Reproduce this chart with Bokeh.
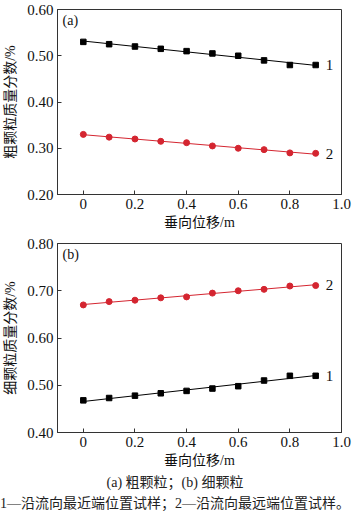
import numpy as np
from bokeh.plotting import figure
from bokeh.layouts import column
from bokeh.models import FixedTicker, Label, Div, Range1d
from bokeh.embed import file_html
from bokeh.resources import INLINE

# ---- data ----
x_disp = [0.0, 0.1, 0.2, 0.3, 0.4, 0.5, 0.6, 0.7, 0.8, 0.9]
coarse_s1 = [0.530, 0.525, 0.520, 0.515, 0.510, 0.505, 0.500, 0.490, 0.480, 0.480]
coarse_s2 = [0.330, 0.324, 0.320, 0.315, 0.312, 0.305, 0.300, 0.297, 0.290, 0.289]
fine_s1 = [0.468, 0.473, 0.478, 0.483, 0.488, 0.493, 0.498, 0.510, 0.520, 0.520]
fine_s2 = [0.670, 0.677, 0.680, 0.685, 0.687, 0.695, 0.700, 0.703, 0.710, 0.711]
x_ticks = [0, 0.2, 0.4, 0.6, 0.8, 1.0]
x_tick_labels = ["0", "0.2", "0.4", "0.6", "0.8", "1.0"]
ya_ticks = [0.2, 0.3, 0.4, 0.5, 0.6]
yb_ticks = [0.4, 0.5, 0.6, 0.7, 0.8]
series_names = ["1", "2"]

FONT = "Liberation Serif, Noto Sans CJK SC"
RED = "#d42530"
BLACK = "#000000"


def fit(xs, ys):
    k, b = np.polyfit(xs, ys, 1)
    return [k * x + b for x in xs]


def make_panel(tag, ylabel, yr, yticks, s1, s2, height, top):
    p = figure(width=356, height=height, output_backend="svg", toolbar_location=None,
               x_range=Range1d(-0.1, 1.0), y_range=Range1d(*yr),
               min_border_left=54, min_border_right=15, min_border_top=top,
               min_border_bottom=40)
    p.grid.visible = False
    p.outline_line_color = "#333333"
    p.outline_line_width = 1
    p.background_fill_color = "white"
    p.border_fill_color = "white"

    for ax in (p.xaxis[0], p.yaxis[0]):
        ax.major_tick_in = 4
        ax.major_tick_out = 0
        ax.minor_tick_line_color = None
        ax.axis_line_color = "#333333"
        ax.major_tick_line_color = "#333333"
        ax.major_label_text_font = FONT
        ax.major_label_text_font_size = "15px"
        ax.major_label_text_color = "#111111"
        ax.axis_label_text_font = FONT
        ax.axis_label_text_font_size = "14px"
        ax.axis_label_text_font_style = "normal"
        ax.axis_label_text_color = "#111111"

    p.xaxis.ticker = FixedTicker(ticks=x_ticks)
    p.xaxis.major_label_overrides = {t: l for t, l in zip(x_ticks, x_tick_labels)}
    p.xaxis.axis_label = "垂向位移/m"
    p.xaxis.major_label_standoff = 4
    p.xaxis.axis_label_standoff = 3

    p.yaxis.ticker = FixedTicker(ticks=yticks)
    p.yaxis.major_label_overrides = {t: f"{t:.2f}" for t in yticks}
    p.yaxis.axis_label = ylabel
    p.yaxis.major_label_standoff = 4
    p.yaxis.axis_label_standoff = 6

    # series 1: black squares
    p.line(x_disp, fit(x_disp, s1), line_color=BLACK, line_width=1)
    p.scatter(x_disp, s1, marker="square", size=5.5, color=BLACK)
    # series 2: red circles
    p.line(x_disp, fit(x_disp, s2), line_color=RED, line_width=1)
    p.scatter(x_disp, s2, marker="circle", size=6, color=RED)

    for name, s in zip(series_names, (s1, s2)):
        p.text(x=[x_disp[-1]], y=[fit(x_disp, s)[-1]], text=[name], x_offset=10,
               text_font=FONT, text_font_size="15px", text_baseline="middle",
               text_align="left", text_color="#111111")

    p.add_layout(Label(x=-0.1, y=yr[1], text=tag, x_offset=5, y_offset=-3,
                       text_baseline="top", text_font=FONT, text_font_size="14px",
                       text_color="#111111"))
    return p


pa = make_panel("(a)", "粗颗粒质量分数/%", (0.2, 0.6), ya_ticks, coarse_s1, coarse_s2, 234, 9)
pb = make_panel("(b)", "细颗粒质量分数/%", (0.4, 0.8), yb_ticks, fine_s1, fine_s2, 238, 9)

cap = Div(text=("<div style='text-align:center;line-height:21px;white-space:nowrap;"
                "font-family:\"Liberation Serif\",\"Noto Sans CJK SC\";font-size:14px;color:#222'>"
                "(a) 粗颗粒；(b) 细颗粒<br>"
                "1—沿流向最近端位置试样；2—沿流向最远端位置试样。</div>"),
          width=356, height=42, margin=(0, 0, 0, 0))

layout = column(pa, pb, cap, spacing=0)
open("out.html", "w").write(file_html(layout, INLINE))
